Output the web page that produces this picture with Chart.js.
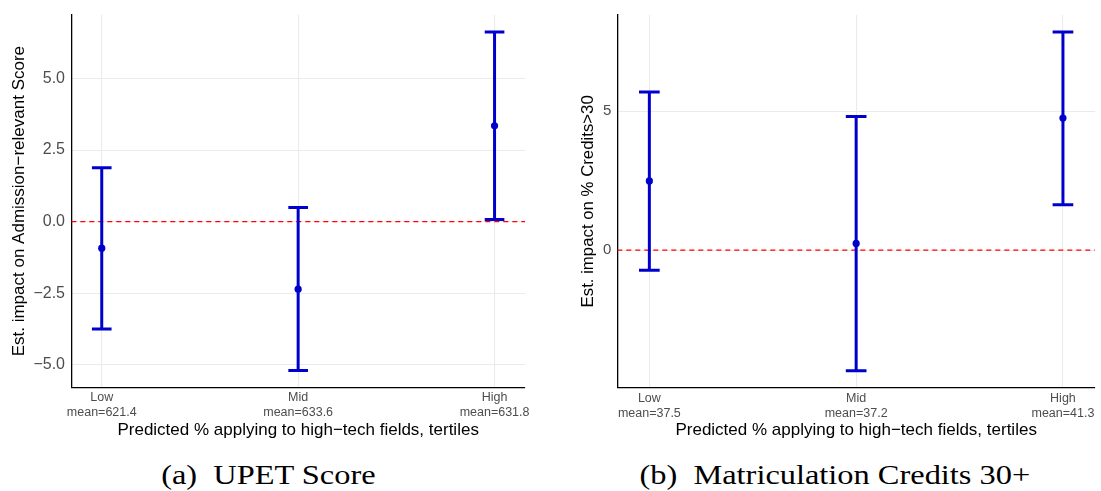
<!DOCTYPE html>
<html>
<head>
<meta charset="utf-8">
<script src="https://cdn.jsdelivr.net/npm/chart.js@4.4.0/dist/chart.umd.min.js"></script>
<style>
html,body{margin:0;padding:0;background:#fff;width:1101px;height:491px;overflow:hidden;}
.wrap{position:absolute;top:0;height:441px;}
#wa{left:0;width:545px;}
#wb{left:560px;width:541px;}
.cap{position:absolute;top:457px;height:36px;line-height:36px;font-family:"Liberation Serif","DejaVu Serif",serif;font-size:27px;color:#000;white-space:nowrap;text-align:center;}
.cap span{display:inline-block;transform:scaleX(1.2);transform-origin:center;}
</style>
</head>
<body>
<div class="wrap" id="wa"><canvas id="ca"></canvas></div>
<div class="wrap" id="wb"><canvas id="cb"></canvas></div>
<div class="cap" style="left:0;width:536px;"><span>(a)&nbsp; UPET Score</span></div>
<div class="cap" style="left:570px;width:530px;"><span>(b)&nbsp; Matriculation Credits 30+</span></div>
<script>
// ---- data ----
const categories = ["Low", "Mid", "High"];

const meanLabelsA = ["mean=621.4", "mean=633.6", "mean=631.8"];
const estimateA = [-0.93, -2.36, 3.35];
const lowerA = [-3.75, -5.20, 0.07];
const upperA = [1.88, 0.49, 6.63];
const yTickValuesA = [-5, -2.5, 0, 2.5, 5];
const yTickLabelsA = ["\u22125.0", "\u22122.5", "0.0", "2.5", "5.0"];

const meanLabelsB = ["mean=37.5", "mean=37.2", "mean=41.3"];
const estimateB = [2.49, 0.24, 4.75];
const lowerB = [-0.72, -4.34, 1.63];
const upperB = [5.69, 4.81, 7.85];
const yTickValuesB = [0, 5];
const yTickLabelsB = ["0", "5"];

const yTitleA = "Est. impact on Admission\u2212relevant Score";
const yTitleB = "Est. impact on % Credits>30";
const xTitle = "Predicted % applying to high\u2212tech fields, tertiles";

// ---- styling ----
const BLUE = '#0000CD';
const FONT = '"Liberation Sans", Arial, sans-serif';
const CAP = 0.05;               // half error-bar cap width (x units)
const X_MIN = -CAP - 0.05 * (categories.length - 1 + 2 * CAP);
const X_MAX = categories.length - 1 + CAP + 0.05 * (categories.length - 1 + 2 * CAP);

function yLimits(lo, hi) {
  const mn = Math.min(...lo), mx = Math.max(...hi);
  const pad = 0.05 * (mx - mn);
  return [mn - pad, mx + pad];
}

function buildDatasets(est, lo, hi) {
  const ds = [];
  ds.push({
    data: est.map((v, i) => ({x: i, y: v})),
    pointRadius: 3.6, pointHoverRadius: 3.6,
    backgroundColor: BLUE, borderColor: BLUE, borderWidth: 0, showLine: false
  });
  est.forEach((v, i) => {
    ds.push({
      showLine: true, spanGaps: false, pointRadius: 0, pointHoverRadius: 0,
      borderColor: BLUE, borderWidth: 3, borderCapStyle: 'butt',
      data: [
        {x: i, y: lo[i]}, {x: i, y: hi[i]}, {x: i, y: null},
        {x: i - CAP, y: hi[i]}, {x: i + CAP, y: hi[i]}, {x: i, y: null},
        {x: i - CAP, y: lo[i]}, {x: i + CAP, y: lo[i]}
      ]
    });
  });
  ds.push({
    showLine: true, pointRadius: 0, pointHoverRadius: 0,
    borderColor: '#ff0000', borderWidth: 1.4, borderDash: [5, 4],
    data: [{x: X_MIN, y: 0}, {x: X_MAX, y: 0}]
  });
  return ds;
}

function makeChart(id, p) {
  const [yMin, yMax] = yLimits(p.lo, p.hi);
  return new Chart(document.getElementById(id), {
    type: 'scatter',
    data: {datasets: buildDatasets(p.est, p.lo, p.hi)},
    options: {
      responsive: true, maintainAspectRatio: false, animation: false,
      events: [],
      layout: {padding: {left: 0, top: 15, right: p.padRight, bottom: 0}},
      plugins: {legend: {display: false}, tooltip: {enabled: false}},
      scales: {
        x: {
          type: 'linear', min: X_MIN, max: X_MAX,
          afterBuildTicks: s => { s.ticks = categories.map((c, i) => ({value: i})); },
          afterFit: s => { s.height = p.xH; s.paddingLeft = 0; s.paddingRight = 0; },
          ticks: {
            callback: v => [categories[Math.round(v)], p.means[Math.round(v)]],
            color: '#4d4d4d', font: {family: FONT, size: 12.5, lineHeight: 1.2},
            padding: 3, maxRotation: 0, autoSkip: false
          },
          grid: {color: '#ebebeb', lineWidth: 1.1, drawTicks: false},
          border: {display: true, color: '#000', width: 1.3},
          title: {display: true, text: xTitle, color: '#000',
                  font: {family: FONT, size: 17, lineHeight: 1.2}, padding: {top: 0, bottom: 0}}
        },
        y: {
          type: 'linear', min: yMin, max: yMax,
          afterBuildTicks: s => { s.ticks = p.yTicks.map(v => ({value: v})); },
          afterFit: s => { s.width = p.yW; s.paddingTop = 0; s.paddingBottom = 0; },
          ticks: {
            callback: v => p.yLabels[p.yTicks.indexOf(v)],
            color: '#4d4d4d', font: {family: FONT, size: p.yTickSize}, padding: p.yTickPad
          },
          grid: {color: '#ebebeb', lineWidth: 1.1, drawTicks: false},
          border: {display: true, color: '#000', width: 1.3},
          title: {display: true, text: p.yTitle, color: '#000',
                  font: {family: FONT, size: p.yTitleSize, lineHeight: 1.2}, padding: {top: p.yTitlePad, bottom: 0}}
        }
      }
    }
  });
}

makeChart('ca', {
  est: estimateA, lo: lowerA, hi: upperA, means: meanLabelsA,
  yTicks: yTickValuesA, yLabels: yTickLabelsA, yTitle: yTitleA,
  padRight: 20, xH: 53.7, yW: 71.3, yTickPad: 6.3, yTickSize: 16,
  yTitleSize: 17, yTitlePad: 8.8
});
makeChart('cb', {
  est: estimateB, lo: lowerB, hi: upperB, means: meanLabelsB,
  yTicks: yTickValuesB, yLabels: yTickLabelsB, yTitle: yTitleB,
  padRight: 6, xH: 53.3, yW: 57.3, yTickPad: 6, yTickSize: 15,
  yTitleSize: 16.8, yTitlePad: 18.5
});
</script>
</body>
</html>
